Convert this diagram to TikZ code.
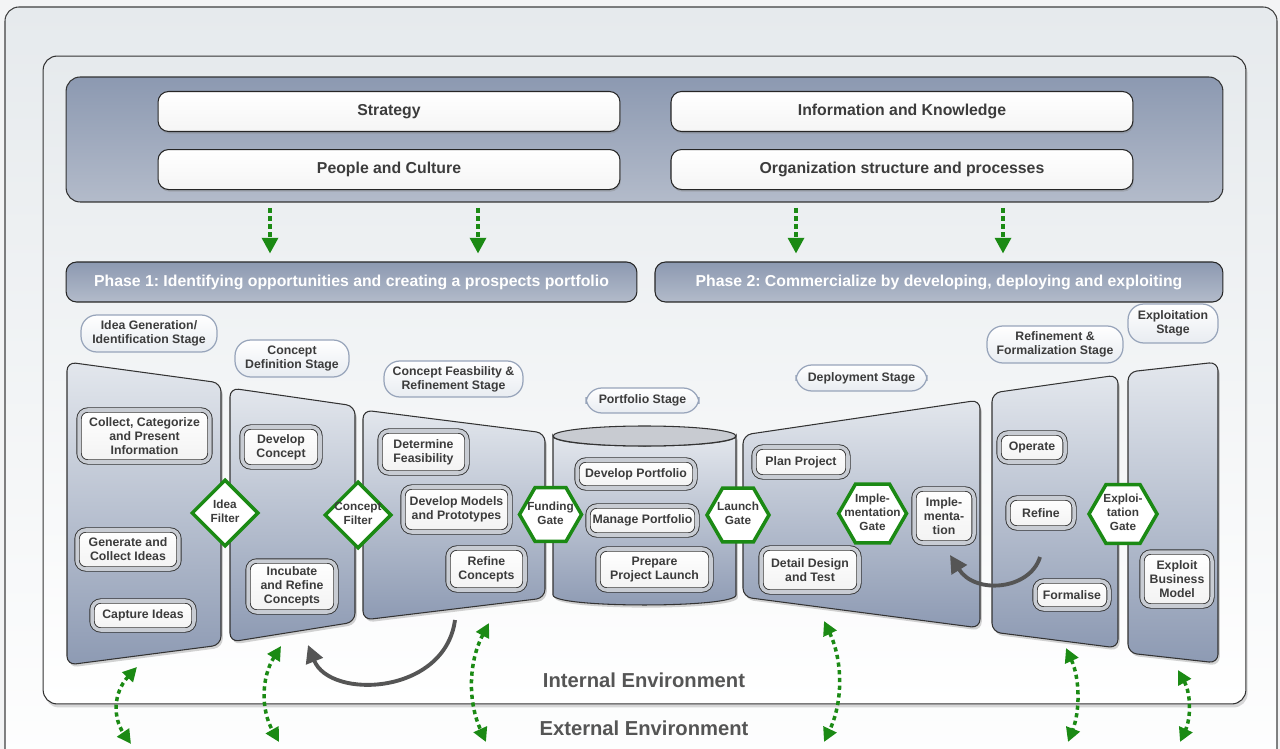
\documentclass[tikz,border=0pt]{standalone}
\usepackage{fontspec}
\setmainfont{Liberation Sans}
\usepackage{xcolor}
\usepackage{tikz}
\usetikzlibrary{arrows.meta,positioning,shapes.geometric,shadows}
\frenchspacing
\definecolor{pagebg}{HTML}{F3F4F5}
\definecolor{framefill}{HTML}{E6EAED}
\definecolor{txtgray}{HTML}{3C3C3C}
\definecolor{envgray}{HTML}{555555}
\definecolor{gategreen}{HTML}{1B8A14}
\definecolor{slatetop}{HTML}{8C99B1}
\definecolor{slatebot}{HTML}{B3BBCA}
\definecolor{paneltop}{HTML}{E3E7ED}
\definecolor{panelbot}{HTML}{8D9AB3}
\definecolor{pillline}{HTML}{97A4BA}
\definecolor{pillbot}{HTML}{E8ECF1}
\definecolor{ringgray}{HTML}{C8CCD3}
\definecolor{arrowgray}{HTML}{555555}
\newcommand{\smallbf}{\fontsize{7}{8}\selectfont\bfseries}
\newcommand{\gatebf}{\fontsize{6.7}{7.9}\selectfont\bfseries}
\newcommand{\midbf}{\fontsize{9}{11}\selectfont\bfseries}
\newcommand{\bigbf}{\fontsize{11.5}{13}\selectfont\bfseries}
\newcommand{\gatelbl}[1]{\makebox[0pt]{\begin{tabular}{@{}c@{}}#1\end{tabular}}}

\begin{document}
\begin{tikzpicture}[
  x=0.02cm, y=-0.02cm,
  outerframe/.style={draw=black!75, line width=0.6pt, rounded corners=8pt,
              top color=framefill, bottom color=white},
  innerframe/.style={draw=black!80, line width=0.6pt, rounded corners=8pt,
              top color=framefill, bottom color=white,
              drop shadow={opacity=0.3, shadow xshift=1pt, shadow yshift=-2pt}},
  driverpanel/.style={draw=black!80, line width=0.6pt, rounded corners=8pt,
              top color=slatetop, bottom color=slatebot},
  topbox/.style={draw=black!85, line width=0.6pt, rounded corners=6pt,
              top color=white, bottom color=black!4, minimum width=9.24cm,
              minimum height=0.8cm, font=\midbf, text=txtgray,
              drop shadow={opacity=0.35, shadow xshift=0.5pt, shadow yshift=-1.2pt}},
  phasebar/.style={draw=black!85, line width=0.6pt, rounded corners=6pt,
              top color=slatetop, bottom color=slatebot, minimum height=0.8cm,
              font=\midbf, text=white},
  stagepanel/.style={draw=black!80, line width=0.6pt, rounded corners=5pt,
              top color=paneltop, bottom color=panelbot,
              drop shadow={opacity=0.35, shadow xshift=1pt, shadow yshift=-1.5pt}},
  stagelbl/.style={draw=pillline, line width=0.7pt, rounded corners=9pt,
              top color=white, bottom color=pillbot, align=center,
              font=\smallbf, text=txtgray, inner sep=0pt},
  procbox/.style={draw=black!80, line width=0.5pt, double=ringgray,
              double distance=2pt, rounded corners=5pt, top color=white,
              bottom color=black!5, align=center, font=\smallbf, text=txtgray,
              inner sep=1pt,
              drop shadow={opacity=0.4, shadow xshift=0.6pt, shadow yshift=-1.2pt}},
  filtergate/.style={diamond, draw=gategreen, line width=2pt, fill=white,
              minimum width=1.34cm, minimum height=1.34cm, inner sep=0pt,
              font=\gatebf, text=txtgray},
  hexgate/.style={regular polygon, regular polygon sides=6, draw=gategreen,
              line width=2pt, fill=white, minimum size=1.24cm, inner sep=0pt,
              font=\gatebf, text=txtgray},
  greenflow/.style={-{Triangle[length=9pt,width=9pt]}, draw=gategreen,
              line width=2.2pt, dash pattern=on 2.6pt off 2pt},
  envflow/.style={{Triangle[length=8pt,width=8pt]}-{Triangle[length=8pt,width=8pt]},
              draw=gategreen, line width=2pt, dash pattern=on 2.4pt off 2pt},
  retflow/.style={-{Triangle[length=10pt,width=10pt]}, draw=arrowgray,
              line width=2.2pt},
  envtext/.style={font=\bigbf, text=envgray}
]
  \useasboundingbox (0,0) rectangle (1280,749);
  \clip (0,0) rectangle (1280,749);
  \fill[pagebg] (0,0) rectangle (1280,749);
  \draw[outerframe] (5,7) rectangle (1277,800);

  % internal environment and drivers
  \node[innerframe, minimum width=24.06cm, minimum height=12.96cm] (internal) at (644.5,380) {};
  \node[driverpanel, minimum width=23.14cm, minimum height=2.5cm] (drivers) at (644.5,139.5) {};
  \node[topbox] (strategy) at (389,111.5) {Strategy};
  \node[topbox, right=1cm of strategy] (info) {Information and Knowledge};
  \node[topbox, below=0.34cm of strategy] (people) {People and Culture};
  \node[topbox, below=0.34cm of info] (orgs) {Organization structure and processes};

  % phases
  \node[phasebar, minimum width=11.42cm] (phaseone) at (351.5,282)
    {Phase 1: Identifying opportunities and creating a prospects portfolio};
  \node[phasebar, minimum width=11.36cm, right=0.34cm of phaseone] (phasetwo)
    {Phase 2: Commercialize by developing, deploying and exploiting};

  \coordinate (flowa) at (270,208);
  \coordinate (flowb) at (478,208);
  \coordinate (flowc) at (796,208);
  \coordinate (flowd) at (1003,208);
  \draw[greenflow, shorten >=4.5pt] (flowa) -- (flowa |- phaseone.north);
  \draw[greenflow, shorten >=4.5pt] (flowb) -- (flowb |- phaseone.north);
  \draw[greenflow, shorten >=4.5pt] (flowc) -- (flowc |- phasetwo.north);
  \draw[greenflow, shorten >=4.5pt] (flowd) -- (flowd |- phasetwo.north);

  % stage labels
  \node[stagelbl, minimum width=2.72cm, minimum height=0.74cm] (ideastage) at (149,333.5) {Idea Generation/\\Identification Stage};
  \node[stagelbl, minimum width=2.28cm, minimum height=0.74cm] (defstage) at (292,358.5) {Concept\\Definition Stage};
  \node[stagelbl, minimum width=2.78cm, minimum height=0.72cm] (feasstage) at (453.5,379) {Concept Feasbility \&\\Refinement Stage};
  \node[stagelbl, minimum width=2.26cm, minimum height=0.5cm] (portstage) at (642.5,400.5) {Portfolio Stage};
  \node[stagelbl, minimum width=2.62cm, minimum height=0.52cm] (deploystage) at (861.5,378) {Deployment Stage};
  \node[stagelbl, minimum width=2.72cm, minimum height=0.74cm] (formstage) at (1055,344.5) {Refinement \&\\Formalization Stage};
  \node[stagelbl, minimum width=1.8cm, minimum height=0.78cm] (exploitstage) at (1173,323.5) {Exploitation\\Stage};

  % stage panels
  \draw[stagepanel] (67,362) -- (221,383) -- (221,645) -- (67,665) -- cycle;
  \draw[stagepanel] (230,388) -- (355,406) -- (355,622) -- (230,642) -- cycle;
  \draw[stagepanel] (363,410) -- (545,433) -- (545,598) -- (363,620) -- cycle;
  \draw[stagepanel] (743,435) -- (980,400) -- (980,628) -- (743,597) -- cycle;
  \draw[stagepanel] (992,393) -- (1118,375) -- (1118,648) -- (992,632) -- cycle;
  \draw[stagepanel] (1128,372) -- (1218,362) -- (1218,663) -- (1128,653) -- cycle;
  % portfolio cylinder
  \draw[draw=black!80, line width=0.6pt, top color=paneltop, bottom color=panelbot,
        drop shadow={opacity=0.35, shadow xshift=1pt, shadow yshift=-1.5pt}]
    (553,436) -- (553,595) .. controls (553,608.3) and (736,608.3) .. (736,595)
    -- (736,436) .. controls (736,449.3) and (553,449.3) .. (553,436) -- cycle;
  \draw[draw=black!80, line width=0.6pt, fill=black!12!paneltop] (644.5,436) ellipse [x radius=91.5, y radius=10];

  % activities
  \node[procbox, minimum width=2.62cm, minimum height=1.04cm] (collect) at (144.5,436) {Collect, Categorize\\and Present\\Information};
  \node[procbox, minimum width=2.04cm, minimum height=0.78cm] (generate) at (128,549.5) {Generate and\\Collect Ideas};
  \node[procbox, minimum width=2.04cm, minimum height=0.58cm] (capture) at (143,615.5) {Capture Ideas};
  \node[procbox, minimum width=1.56cm, minimum height=0.8cm] (devconcept) at (281,447) {Develop\\Concept};
  \node[procbox, minimum width=1.76cm, minimum height=1.02cm] (incubate) at (292,586.5) {Incubate\\and Refine\\Concepts};
  \node[procbox, minimum width=1.74cm, minimum height=0.84cm] (feasibility) at (423.5,452) {Determine\\Feasibility};
  \node[procbox, minimum width=2.14cm, minimum height=0.9cm] (models) at (456.5,509.5) {Develop Models\\and Prototypes};
  \node[procbox, minimum width=1.54cm, minimum height=0.84cm] (refconcepts) at (486.5,569) {Refine\\Concepts};
  \node[procbox, minimum width=2.36cm, minimum height=0.56cm] (devport) at (636,474) {Develop Portfolio};
  \node[procbox, minimum width=2.18cm, minimum height=0.58cm] (manport) at (642.5,520.5) {Manage Portfolio};
  \node[procbox, minimum width=2.26cm, minimum height=0.82cm] (preplaunch) at (654.5,569.5) {Prepare\\Project Launch};
  \node[procbox, minimum width=1.88cm, minimum height=0.6cm] (planproj) at (801,462) {Plan Project};
  \node[procbox, minimum width=1.96cm, minimum height=0.88cm] (design) at (810,570) {Detail Design\\and Test};
  \node[procbox, minimum width=1.2cm, minimum height=1.08cm] (implement) at (944,516) {Imple-\\menta-\\tion};
  \node[procbox, minimum width=1.32cm, minimum height=0.58cm] (operate) at (1032,447.5) {Operate};
  \node[procbox, minimum width=1.32cm, minimum height=0.6cm] (refine) at (1041,513) {Refine};
  \node[procbox, minimum width=1.48cm, minimum height=0.56cm] (formalise) at (1072,595) {Formalise};
  \node[procbox, minimum width=1.4cm, minimum height=1.08cm] (exploit) at (1177,579) {Exploit\\Business\\Model};

  % gates
  \node[filtergate] (ideafilter) at (225,513) {\gatelbl{Idea\\Filter}};
  \node[filtergate] (conceptfilter) at (358,515) {\gatelbl{Concept\\Filter}};
  \node[hexgate] (fundinggate) at (550.5,514.5) {\gatelbl{Funding\\Gate}};
  \node[hexgate] (launchgate) at (738,515) {\gatelbl{Launch\\Gate}};
  \node[hexgate, minimum size=1.34cm] (implgate) at (872.5,513.5) {\gatelbl{Imple-\\mentation\\Gate}};
  \node[hexgate, minimum size=1.34cm] (exploitgate) at (1123,514) {\gatelbl{Exploi-\\tation\\Gate}};

  % feedback loops
  \coordinate (feasback) at (455,620);
  \coordinate (defback) at (308,645);
  \coordinate (refback) at (1040,557);
  \coordinate (implback) at (950,555);
  \draw[retflow] (feasback) .. controls (445,695) and (330,700) .. (defback);
  \draw[retflow] (refback) .. controls (1030,590) and (975,595) .. (implback);

  % environment
  \node[envtext] (internaltxt) at (644,680) {Internal Environment};
  \node[envtext] (externaltxt) at (644,728) {External Environment};

  \coordinate (ideain) at (137,667);    \coordinate (ideaout) at (131,744);
  \coordinate (defin) at (281,646);     \coordinate (defout) at (279,742);
  \coordinate (feasin) at (489,623);    \coordinate (feasout) at (486,742);
  \coordinate (deployin) at (824,621);  \coordinate (deployout) at (824,742);
  \coordinate (formin) at (1066,648);   \coordinate (formout) at (1068,742);
  \coordinate (exploitin) at (1178,670); \coordinate (exploitout) at (1180,742);
  \draw[envflow] (ideain) .. controls (113,693) and (113,718) .. (ideaout);
  \draw[envflow] (defin) .. controls (261,678) and (261,710) .. (defout);
  \draw[envflow] (feasin) .. controls (468,663) and (468,702) .. (feasout);
  \draw[envflow] (deployin) .. controls (843,661) and (843,702) .. (deployout);
  \draw[envflow] (formin) .. controls (1080,679) and (1080,711) .. (formout);
  \draw[envflow] (exploitin) .. controls (1191,694) and (1191,718) .. (exploitout);
\end{tikzpicture}
\end{document}
